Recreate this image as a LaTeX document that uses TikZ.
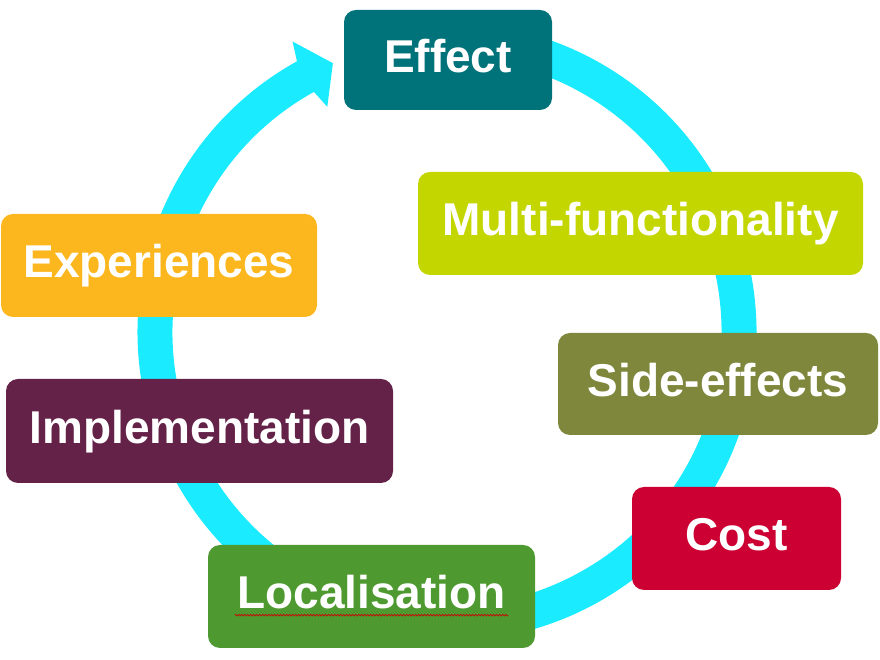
\documentclass[tikz,border=0pt]{standalone}
\usepackage{fontspec}
\setmainfont{Liberation Sans}
\usetikzlibrary{calc,decorations.pathmorphing}
\definecolor{ringcyan}{RGB}{26,235,255}
\definecolor{cEffect}{RGB}{0,115,122}
\definecolor{cMulti}{RGB}{196,214,0}
\definecolor{cSide}{RGB}{126,135,59}
\definecolor{cCost}{RGB}{204,0,51}
\definecolor{cLocal}{RGB}{78,154,49}
\definecolor{cImpl}{RGB}{100,34,72}
\definecolor{cExper}{RGB}{253,183,30}
\tikzset{
  box/.style={rectangle, rounded corners=12pt, inner sep=0pt,
    text=white, font=\fontsize{46}{50}\selectfont\bfseries,
    text height=33pt, text depth=8pt},
}
\begin{document}
\begin{tikzpicture}[x=1pt,y=1pt]
\useasboundingbox (0,0) rectangle (880,660);
\coordinate (C) at (447,328);
% circular arrow
\fill[ringcyan]
  ($(C)+(100:309.5pt)$) arc[start angle=100, end angle=-241, radius=309.5pt]
  -- ($(C)+(-242:329pt)$)
  -- ($(C)+(-247:292pt)$)
  -- ($(C)+(-242:255pt)$)
  -- ($(C)+(-241:274.5pt)$)
  arc[start angle=-241, end angle=100, radius=274.5pt]
  -- cycle;
% boxes
\node[box, fill=cEffect, minimum width=208pt, minimum height=100pt] (effect) at (448,600) {Effect};
\node[box, fill=cMulti, minimum width=445pt, minimum height=103pt] (multi) at (640.5,436.5) {Multi-functionality};
\node[box, fill=cSide, minimum width=320pt, minimum height=102pt] (side) at (718,276) {Side-effects};
\node[box, fill=cCost, minimum width=209pt, minimum height=103pt] (cost) at (736.5,121.5) {Cost};
\node[box, fill=cLocal, minimum width=327pt, minimum height=103pt] (local) at (371.5,63.5) {Localisation};
\node[box, fill=cImpl, minimum width=387pt, minimum height=104pt] (impl) at (199.5,229) {Implementation};
\node[box, fill=cExper, minimum width=316pt, minimum height=103pt] (exper) at (159,394.5) {Experiences};
% spell-check squiggle
\draw[red!80!black, line width=0.7pt, decorate, decoration={snake, segment length=3pt, amplitude=0.8pt}]
  ([xshift=27pt,yshift=33pt]local.south west) -- ([xshift=-27pt,yshift=33pt]local.south east);
\end{tikzpicture}
\end{document}
